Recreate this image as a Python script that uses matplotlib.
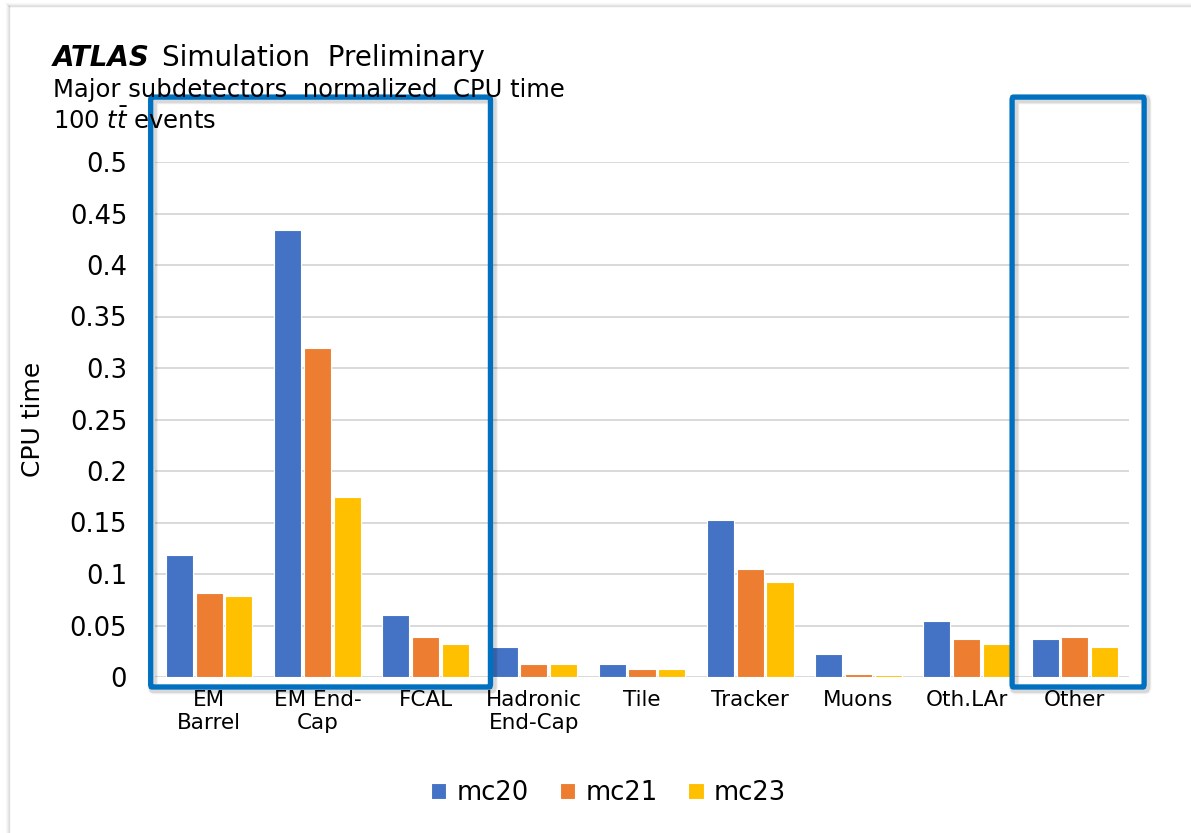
import matplotlib
matplotlib.use("Agg")
import matplotlib.pyplot as plt
import matplotlib.transforms as mtransforms
import numpy as np
from matplotlib.patches import FancyBboxPatch
from matplotlib.lines import Line2D

plt.rcParams['font.family'] = ['DejaVu Sans']

categories = ["EM\nBarrel", "EM End-\nCap", "FCAL", "Hadronic\nEnd-Cap", "Tile",
              "Tracker", "Muons", "Oth.LAr", "Other"]
series_names = ["mc20", "mc21", "mc23"]
mc20 = [0.118, 0.434, 0.060, 0.029, 0.0125, 0.152, 0.022, 0.054, 0.037]
mc21 = [0.082, 0.319, 0.039, 0.0125, 0.008, 0.105, 0.003, 0.037, 0.0385]
mc23 = [0.079, 0.175, 0.032, 0.0125, 0.008, 0.092, 0.0015, 0.032, 0.029]
y_ticks = [0, 0.05, 0.1, 0.15, 0.2, 0.25, 0.3, 0.35, 0.4, 0.45, 0.5]
# groups of categories outlined with a frame (first, last index)
highlighted = [(0, 2), (8, 8)]

colors = ["#4472C4", "#ED7D31", "#FFC000"]
frame_blue = "#0070C0"

W, H = 1191, 833
fig = plt.figure(figsize=(W / 100, H / 100), dpi=100)
fig.patch.set_facecolor("white")

ax = fig.add_axes([155 / W, 1 - 677 / H, 974 / W, 515 / H])
x = np.arange(len(categories))
width = 0.25
offsets = [-0.275, 0.0, 0.275]
for vals, off, col, name in zip([mc20, mc21, mc23], offsets, colors, series_names):
    ax.bar(x + off, vals, width, color=col, edgecolor="white", linewidth=0.8,
           label=name, zorder=3)

ax.set_xlim(-0.5, len(categories) - 0.5)
ax.set_ylim(0, 0.5)
ax.set_yticks(y_ticks)
ax.set_yticklabels([f"{v:g}" for v in y_ticks])
ax.set_xticks(x)
ax.set_xticklabels(categories, fontsize=15.5, linespacing=1.2)
ax.tick_params(axis="y", length=0, pad=20, labelsize=18.5)
ax.tick_params(axis="x", length=0, pad=9)
ax.grid(axis="y", color="#d9d9d9", linewidth=1.4, zorder=0)
ax.set_axisbelow(True)
for s in ax.spines.values():
    s.set_visible(False)
ax.set_ylabel("CPU time", fontsize=18)
ax.yaxis.set_label_coords(-0.113, 0.5)

# outlined category groups, with a soft drop shadow
for first, last in highlighted:
    x0 = first - (0.58 if first == len(categories) - 1 else 0.54)
    x1 = last + (0.64 if last == len(categories) - 1 else 0.6)
    y0, y1 = -0.0097, 0.563
    for k, a in [(4, 0.035), (3, 0.05), (2, 0.07)]:
        tr = mtransforms.offset_copy(ax.transData, fig=fig, x=2, y=-2, units="dots")
        sh = FancyBboxPatch((x0, y0), x1 - x0, y1 - y0,
                            boxstyle="round,pad=0,rounding_size=0.01", transform=tr,
                            fill=False, edgecolor="black", alpha=a, linewidth=3.8 + k,
                            clip_on=False, zorder=4, mutation_aspect=0.3)
        ax.add_patch(sh)
    box = FancyBboxPatch((x0, y0), x1 - x0, y1 - y0, boxstyle="round,pad=0,rounding_size=0.01",
                         transform=ax.transData, fill=False, edgecolor=frame_blue,
                         linewidth=3.8, clip_on=False, zorder=5, mutation_aspect=0.3)
    ax.add_patch(box)

# card edge shading on left and top
for i, a in enumerate([0.25, 0.15, 0.08, 0.04]):
    fig.add_artist(Line2D([(9 - i) / W, (9 - i) / W], [0, 1 - (6 - i) / H],
                          color="#888888", alpha=a, linewidth=1, transform=fig.transFigure))
    fig.add_artist(Line2D([(9 - i) / W, 1], [1 - (6 - i) / H, 1 - (6 - i) / H],
                          color="#888888", alpha=a, linewidth=1, transform=fig.transFigure))

# header text
fig.text(53 / W, 1 - 66 / H, "ATLAS", fontsize=20, fontweight="bold", fontstyle="italic",
         va="baseline", ha="left")
fig.text(162 / W, 1 - 66 / H, "Simulation  Preliminary", fontsize=20,
         va="baseline", ha="left")
fig.text(53 / W, 1 - 97 / H, "Major subdetectors  normalized  CPU time", fontsize=17.5,
         va="baseline", ha="left")
fig.text(53 / W, 1 - 129 / H, r"100 $t\bar{t}$ events", fontsize=17.5,
         va="baseline", ha="left")

leg = fig.legend(loc="center", bbox_to_anchor=(0.511, 1 - 793 / H), ncol=3,
                 frameon=False, fontsize=18.5, handlelength=0.6, handleheight=0.6,
                 handletextpad=0.4, columnspacing=1.2)

fig.savefig("out.png", dpi=100, facecolor="white")
